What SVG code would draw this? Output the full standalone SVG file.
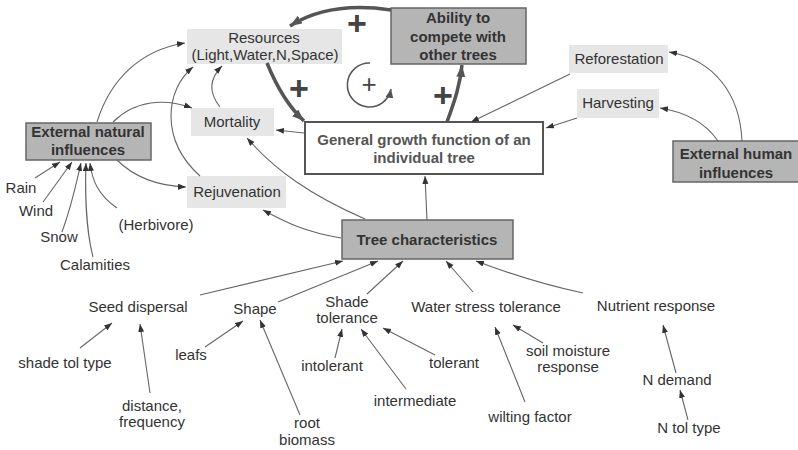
<svg xmlns="http://www.w3.org/2000/svg" width="798" height="450" viewBox="0 0 798 450">
<defs>
<style>
text{font-family:"Liberation Sans",Arial,sans-serif;font-size:15px;fill:#333;text-anchor:middle}
.b{font-weight:bold}
.g{fill:#555;font-weight:bold}
.light{fill:#e6e6e6;stroke:none}
.dark{fill:#b5b5b5;stroke:#666;stroke-width:1.5}
.white{fill:#fff;stroke:#555;stroke-width:2}
.c{fill:none;stroke:#666;stroke-width:1.1;marker-end:url(#a)}
.t{fill:none;stroke:#555;stroke-width:3.5;marker-end:url(#ta)}
.plus{font-size:34px;font-weight:bold;fill:#444}
</style>
<marker id="a" markerUnits="userSpaceOnUse" markerWidth="10" markerHeight="8" refX="8" refY="3" orient="auto">
<path d="M0,0 L8,3 L0,6 z" fill="#333"/>
</marker>
<marker id="ta" markerUnits="userSpaceOnUse" markerWidth="14" markerHeight="10" refX="12" refY="4.5" orient="auto">
<path d="M0,0 L12,4.5 L0,9 z" fill="#555"/>
</marker>
<marker id="la" markerUnits="userSpaceOnUse" markerWidth="10" markerHeight="10" refX="9" refY="4" orient="auto">
<path d="M0,0 L9,4 L0,8 z" fill="#555"/>
</marker>
</defs>

<g id="resources"><rect class="light" x="187" y="29" width="155" height="35"/><text x="264" y="43">Resources</text><text x="265" y="60">(Light,Water,N,Space)</text></g>
<g id="ability"><rect class="dark" x="391" y="8" width="135" height="56"/><text class="b" x="458" y="23">Ability to</text><text class="b" x="458" y="42">compete with</text><text class="b" x="458" y="60">other trees</text></g>
<g id="mortality"><rect class="light" x="191" y="108" width="83" height="28"/><text x="232" y="127">Mortality</text></g>
<g id="growth"><rect class="white" x="305" y="122" width="238" height="52"/><text class="g" x="424" y="145">General growth function of an</text><text class="g" x="424" y="163">individual tree</text></g>
<g id="ext-natural"><rect class="dark" x="26" y="123" width="125" height="37"/><text class="b" x="88" y="137">External natural</text><text class="b" x="88" y="155">influences</text></g>
<g id="rejuvenation"><rect class="light" x="187" y="176" width="99" height="32"/><text x="237" y="197">Rejuvenation</text></g>
<g id="reforestation"><rect class="light" x="569" y="45" width="99" height="28"/><text x="619" y="64">Reforestation</text></g>
<g id="harvesting"><rect class="light" x="577" y="89" width="82" height="29"/><text x="618" y="108">Harvesting</text></g>
<g id="ext-human"><rect class="dark" x="673" y="141" width="126" height="41"/><text class="b" x="736" y="159">External human</text><text class="b" x="736" y="178">influences</text></g>
<g id="tree-char"><rect class="dark" x="342" y="220" width="171" height="39"/><text class="b" x="427" y="245">Tree characteristics</text></g>

<g id="rain"><text x="21" y="193">Rain</text></g>
<g id="wind"><text x="36" y="216">Wind</text></g>
<g id="snow"><text x="59" y="242">Snow</text></g>
<g id="calamities"><text x="95" y="270">Calamities</text></g>
<g id="herbivore"><text x="156" y="230">(Herbivore)</text></g>
<g id="seed"><text x="138" y="312">Seed dispersal</text></g>
<g id="shape"><text x="255" y="314">Shape</text></g>
<g id="shade"><text x="347" y="307">Shade</text><text x="347" y="323">tolerance</text></g>
<g id="water"><text x="486" y="312">Water stress tolerance</text></g>
<g id="nutrient"><text x="656" y="311">Nutrient response</text></g>
<g id="shadetol"><text x="65" y="368">shade tol type</text></g>
<g id="distance"><text x="152" y="411">distance,</text><text x="152" y="427">frequency</text></g>
<g id="leafs"><text x="191" y="360">leafs</text></g>
<g id="root"><text x="307" y="428">root</text><text x="307" y="445">biomass</text></g>
<g id="intolerant"><text x="332" y="371">intolerant</text></g>
<g id="intermediate"><text x="415" y="406">intermediate</text></g>
<g id="tolerant"><text x="454" y="368">tolerant</text></g>
<g id="soil"><text x="568" y="356">soil moisture</text><text x="568" y="372">response</text></g>
<g id="wilting"><text x="530" y="422">wilting factor</text></g>
<g id="ndemand"><text x="677" y="385">N demand</text></g>
<g id="ntol"><text x="689" y="433">N tol type</text></g>

<g id="loop-labels">
<text class="plus" x="357" y="35">+</text>
<text class="plus" x="299" y="100">+</text>
<text class="plus" x="443" y="107">+</text>
<text x="369" y="93" style="font-size:26px;font-weight:normal;fill:#444">+</text>
</g>

<g id="connectors">
<path class="t" d="M391,10 C350,4 315,10 290,26"/>
<path class="t" d="M267,63 C278,90 290,108 304,121"/>
<path class="t" d="M447,122 C455,100 460,85 462,65"/>
<path d="M370,63 A22,22 0 1 0 391,89" fill="none" stroke="#555" stroke-width="1.5" marker-end="url(#la)"/>

<path class="c" d="M97,122 C110,80 140,50 185,43"/>
<path class="c" d="M113,122 C135,100 165,98 192,108"/>
<path class="c" d="M117,160 C135,178 160,186 186,187"/>
<path class="c" d="M35,178 L60,162"/>
<path class="c" d="M43,202 L72,162"/>
<path class="c" d="M62,232 C72,205 77,180 81,163"/>
<path class="c" d="M93,257 C86,230 85,190 86,163"/>
<path class="c" d="M117,208 C98,195 92,180 90,163"/>
<path class="c" d="M200,176 C160,140 165,90 193,67"/>
<path class="c" d="M220,107 C208,92 210,78 222,66"/>
<path class="c" d="M304,133 L276,130"/>
<path class="c" d="M365,219 C310,195 275,170 247,138"/>
<path class="c" d="M341,238 C305,232 285,222 263,210"/>
<path class="c" d="M427,220 L425,176"/>
<path class="c" d="M570,74 L471,122"/>
<path class="c" d="M577,118 L546,128"/>
<path class="c" d="M742,141 C740,95 715,60 669,52"/>
<path class="c" d="M718,141 C705,122 685,112 660,108"/>

<path class="c" d="M200,295 L343,261"/>
<path class="c" d="M278,302 L378,261"/>
<path class="c" d="M367,294 L403,261"/>
<path class="c" d="M473,292 L446,261"/>
<path class="c" d="M583,293 C545,285 505,272 476,261"/>
<path class="c" d="M80,348 L112,323"/>
<path class="c" d="M150,393 L140,324"/>
<path class="c" d="M205,347 L243,321"/>
<path class="c" d="M300,415 L260,320"/>
<path class="c" d="M335,358 L342,329"/>
<path class="c" d="M406,389 L361,329"/>
<path class="c" d="M435,355 L383,328"/>
<path class="c" d="M525,402 L495,327"/>
<path class="c" d="M543,343 L513,325"/>
<path class="c" d="M676,373 L663,325"/>
<path class="c" d="M688,420 L680,390"/>
</g>
</svg>
